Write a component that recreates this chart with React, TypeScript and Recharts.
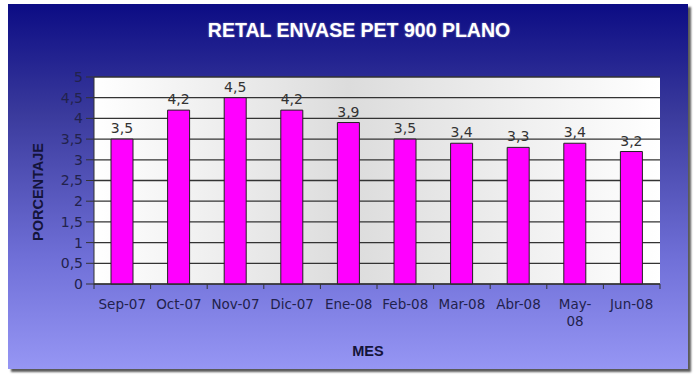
// Retal envase PET 900 plano - gráfico de barras mensual
import { BarChart, Bar, XAxis, YAxis, CartesianGrid, LabelList } from 'recharts';

const meses = ['Sep-07', 'Oct-07', 'Nov-07', 'Dic-07', 'Ene-08', 'Feb-08', 'Mar-08', 'Abr-08', 'May-08', 'Jun-08'];
const porcentaje = [3.5, 4.2, 4.5, 4.2, 3.9, 3.5, 3.4, 3.3, 3.4, 3.2];
const yTicks = [0, 0.5, 1, 1.5, 2, 2.5, 3, 3.5, 4, 4.5, 5];
// etiquetas que Excel partió en dos líneas
const wrapped: Record<string, string[]> = { 'May-08': ['May-', '08'] };

const data = meses.map((mes, i) => ({ mes, valor: porcentaje[i] }));

const FONT = '"Liberation Sans", Arial, sans-serif';
const TICK_FONT = '"DejaVu Sans", Verdana, sans-serif';
const W = 680;
const H = 365;
const PLOT_LEFT = 86;
const PLOT_RIGHT = 28;
const step = (W - PLOT_LEFT - PLOT_RIGHT) / meses.length;

const coma = (v: number) => String(v).replace('.', ',');

function MesTick({ x, y, payload, index }: any) {
  const lines = wrapped[payload.value] ?? [payload.value];
  return (
    <g>
      <line x1={x + step / 2} y1={y - 8} x2={x + step / 2} y2={y - 3} stroke="#333" />
      {index === 0 && <line x1={x - step / 2} y1={y - 8} x2={x - step / 2} y2={y - 3} stroke="#333" />}
      <text x={x} y={y + 17} textAnchor="middle" fontSize={13.5} fill="#22224c" fontFamily={TICK_FONT}>
        {lines.map((l: string, i: number) => (
          <tspan key={i} x={x} dy={i === 0 ? 0 : 17}>{l}</tspan>
        ))}
      </text>
    </g>
  );
}

export default function App() {
  return (
    <div style={{ position: 'absolute', left: 0, top: 0, width: 696, height: 377, background: '#fff' }}>
      <div
        style={{
          position: 'absolute', left: 8, top: 4, width: W, height: H,
          background: 'linear-gradient(to bottom, #0c0c84 0%, #3a3a9c 30%, #7070d8 70%, #9696f4 100%)',
          boxShadow: '3px 3px 2px #5a5a5a',
        }}
      >
        <div
          style={{
            position: 'absolute', left: 0, width: W + 22, top: 15, textAlign: 'center',
            color: '#fff', fontWeight: 'bold', fontSize: 19.5, fontFamily: FONT,
            textShadow: '0 0 2px rgba(200,200,220,0.6)',
          }}
        >
          RETAL ENVASE PET 900 PLANO
        </div>
        <div
          style={{
            position: 'absolute', left: 0, top: 339, width: W + 40, textAlign: 'center',
            color: '#14143a', fontWeight: 'bold', fontSize: 14.5, fontFamily: FONT,
          }}
        >
          MES
        </div>
        <div
          style={{
            position: 'absolute', left: 30, top: 188, transform: 'translate(-50%, -50%) rotate(-90deg)',
            color: '#14143a', fontWeight: 'bold', fontSize: 14.5, fontFamily: FONT, whiteSpace: 'nowrap',
          }}
        >
          PORCENTAJE
        </div>
        <BarChart
          width={W}
          height={H}
          data={data}
          margin={{ top: 73, right: PLOT_RIGHT, left: PLOT_LEFT - 50, bottom: 45 }}
          barSize={22}
          style={{ position: 'absolute', left: 0, top: 0 }}
        >
          <defs>
            {/* fondo del área de trazado: blanco a los lados, gris al centro */}
            <linearGradient id="plotBg" x1="0" y1="0" x2="1" y2="0">
              <stop offset="0%" stopColor="#ffffff" />
              <stop offset="45%" stopColor="#dcdcdc" />
              <stop offset="100%" stopColor="#ffffff" />
            </linearGradient>
          </defs>
          <CartesianGrid vertical={false} stroke="#333" strokeWidth={1.3} fill="url(#plotBg)" fillOpacity={1} />
          <XAxis
            dataKey="mes"
            interval={0}
            height={40}
            axisLine={{ stroke: '#333' }}
            tickLine={false}
            tick={<MesTick />}
          />
          <YAxis
            domain={[0, 5]}
            ticks={yTicks}
            interval={0}
            width={50}
            tickFormatter={coma}
            tick={{ fontSize: 14, fill: '#22224c', fontFamily: TICK_FONT }}
            axisLine={{ stroke: '#333' }}
            tickLine={{ stroke: '#333' }}
            tickSize={8}
            tickMargin={3}
          />
          <YAxis
            yAxisId="right"
            orientation="right"
            domain={[0, 5]}
            width={0}
            tick={false}
            tickLine={false}
            axisLine={{ stroke: '#888' }}
          />
          <Bar dataKey="valor" fill="#ff00ff" stroke="#222" strokeWidth={1} isAnimationActive={false}>
            <LabelList
              dataKey="valor"
              position="top"
              offset={6}
              formatter={(v: any) => coma(v)}
              style={{ fontSize: 14, fill: '#333', fontFamily: TICK_FONT }}
            />
          </Bar>
        </BarChart>
      </div>
    </div>
  );
}
